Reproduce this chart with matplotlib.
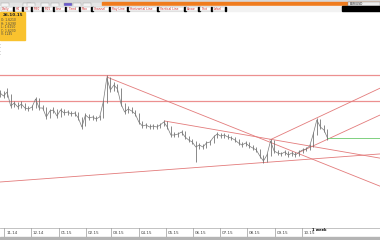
import matplotlib

matplotlib.use("Agg")
import matplotlib.pyplot as plt  # noqa: E402
import pandas as pd  # noqa: E402
from matplotlib.patches import Rectangle  # noqa: E402

# price bars, one every 4 days starting 27.10.14
start_date = "2014-10-27"
closes = [2.07, 2.04, 2.08, 1.94, 1.97, 1.93, 1.96, 1.92, 1.91, 1.93,
          2.01, 1.92, 1.92, 1.83, 1.89, 1.90, 1.84, 1.90, 1.87, 1.88,
          1.86, 1.87, 1.82, 1.73, 1.85, 1.82, 1.83, 1.81, 1.83, 1.98,
          2.22, 2.10, 2.15, 2.11, 1.96, 1.88, 1.91, 1.89, 1.86, 1.78,
          1.74, 1.75, 1.73, 1.74, 1.73, 1.75, 1.78, 1.73, 1.65, 1.65,
          1.66, 1.68, 1.63, 1.60, 1.58, 1.53, 1.55, 1.53, 1.57, 1.58,
          1.63, 1.66, 1.64, 1.65, 1.63, 1.62, 1.60, 1.57, 1.55, 1.57,
          1.54, 1.52, 1.50, 1.44, 1.39, 1.45, 1.59, 1.49, 1.47, 1.46,
          1.48, 1.45, 1.47, 1.45, 1.48, 1.50, 1.51, 1.54, 1.66, 1.80,
          1.73, 1.70, 1.62]
highs = [2.10, 2.09, 2.12, 2.06, 1.99, 1.98, 1.99, 1.97, 1.94, 1.95,
         2.03, 2.02, 1.95, 1.93, 1.91, 1.93, 1.91, 1.92, 1.91, 1.90,
         1.89, 1.89, 1.88, 1.83, 1.87, 1.86, 1.85, 1.84, 1.85, 2.00,
         2.25, 2.23, 2.18, 2.16, 2.12, 1.97, 1.94, 1.93, 1.90, 1.87,
         1.79, 1.77, 1.76, 1.76, 1.76, 1.77, 1.80, 1.79, 1.74, 1.68,
         1.68, 1.70, 1.69, 1.64, 1.61, 1.59, 1.57, 1.56, 1.59, 1.60,
         1.65, 1.68, 1.67, 1.67, 1.66, 1.64, 1.63, 1.61, 1.58, 1.59,
         1.58, 1.55, 1.53, 1.51, 1.45, 1.47, 1.61, 1.60, 1.50, 1.48,
         1.50, 1.49, 1.49, 1.48, 1.50, 1.52, 1.53, 1.56, 1.68, 1.82,
         1.81, 1.75, 1.71]
lows = [2.03, 2.02, 2.03, 1.92, 1.93, 1.91, 1.92, 1.90, 1.89, 1.90,
        1.92, 1.90, 1.90, 1.81, 1.82, 1.87, 1.82, 1.83, 1.85, 1.85,
        1.84, 1.84, 1.80, 1.71, 1.74, 1.80, 1.80, 1.79, 1.80, 1.82,
        1.97, 2.08, 2.09, 2.08, 1.94, 1.86, 1.87, 1.87, 1.84, 1.76,
        1.72, 1.72, 1.71, 1.71, 1.71, 1.72, 1.74, 1.71, 1.63, 1.63,
        1.63, 1.65, 1.61, 1.58, 1.56, 1.38, 1.51, 1.51, 1.52, 1.55,
        1.57, 1.62, 1.62, 1.62, 1.61, 1.60, 1.58, 1.55, 1.53, 1.54,
        1.52, 1.50, 1.48, 1.42, 1.37, 1.38, 1.44, 1.47, 1.45, 1.44,
        1.45, 1.43, 1.44, 1.43, 1.44, 1.47, 1.49, 1.50, 1.53, 1.65,
        1.71, 1.68, 1.60]

# drawn objects
horizontal_levels = [2.255, 1.995]
peak_line = (["2015-02-24", "2016-01-19"], [2.23, 1.06])
mid_line = (["2015-04-30", "2016-01-19"], [1.79, 1.385])
channel_top = (["2015-08-26", "2016-01-19"], [1.60, 2.21])
channel_bottom = (["2015-09-29", "2016-01-19"], [1.48, 1.94])
base_line = (["2014-10-27", "2016-01-19"], [1.18, 1.475])
support_dates = ["2015-10-30", "2015-12-28"]
support_level = 1.625

month_ticks = ["2014-11-01", "2014-12-01", "2015-01-01", "2015-02-01", "2015-03-01",
               "2015-04-01", "2015-05-01", "2015-06-01", "2015-07-01", "2015-08-01",
               "2015-09-01", "2015-10-01"]
month_labels = ["11.14", "12.14", "01.15", "02.15", "03.15", "04.15",
                "05.15", "06.15", "07.15", "08.15", "09.15", "10.15"]

toolbar_tabs = ["Daily", "H4", "H1", "M30", "M15", "Line", "Trend", "Fibo", "Channel",
                "Ray Line", "Horizontal Line", "Vertical Line", "Arrow", "Text", "Label"]
info_lines = ["O: 1.6210", "H: 1.6290", "L: 1.6150", "C: 1.6230", "V: 1245"]

W, H = 380, 240
fig = plt.figure(figsize=(W / 100, H / 100), dpi=100)
fig.patch.set_facecolor("white")


def px_rect(x, y, w, h, **kw):
    """Rectangle in pixel coords with origin top-left."""
    r = Rectangle((x / W, 1 - (y + h) / H), w / W, h / H, transform=fig.transFigure, **kw)
    fig.patches.append(r)


def px_text(x, y, s, **kw):
    fig.text(x / W, 1 - y / H, s, **kw)


ax = fig.add_axes([0, 12 / H, 1, 216 / H])
dates = pd.date_range(start_date, periods=len(closes), freq="4D")
ax.set_xlim(pd.Timestamp(start_date), pd.Timestamp("2015-12-28"))
ax.set_ylim(0.72, 2.88)
for s in ax.spines.values():
    s.set_visible(False)
ax.set_xticks([])
ax.set_yticks([])

red = "#e37b7b"
for lvl in horizontal_levels:
    ax.axhline(lvl, color="#ec9090", lw=0.9)
for xs, ys in (peak_line, mid_line, channel_top, channel_bottom, base_line):
    ax.plot(pd.to_datetime(xs), ys, color=red, lw=0.6)
ax.plot(pd.to_datetime(support_dates), [support_level] * 2, color="#7fd07f", lw=0.7)

ax.vlines(dates, lows, highs, color="#6a6a6a", lw=0.55)
ax.plot(dates, closes, color="#7a7a7a", lw=0.5)

# time axis strip
tx = ax.get_xaxis_transform()
ax.plot([0, 1], [0, 0], color="#b8b8b8", lw=0.6, transform=ax.transAxes, clip_on=False)
for d, lab in zip(pd.to_datetime(month_ticks), month_labels):
    ax.plot([d, d], [0, -9 / 216], color="#9a9a9a", lw=0.5, transform=tx, clip_on=False)
    ax.text(d + pd.Timedelta(days=2), -4.5 / 216, lab, transform=tx, fontsize=3.0,
            color="#444444", va="center", ha="left")
px_text(312, 230, "1 week", fontsize=2.6, color="black", weight="bold", va="center")
px_rect(0, 237, W, 3, color="#b4b4b4")

# toolbar
px_rect(0, 0, W, 3, color="#d8d8d8")
px_rect(0, 3, 102, 4, color="#e4e4e4")
px_rect(102, 2, W - 102, 4, color="#f07c1e")
for i, x0 in enumerate([0, 22, 26, 40, 50, 63, 72, 82]):
    px_rect(x0 + 1, 3, 8, 3.5, facecolor="#6a5acd" if i == 5 else "#f4f4f4",
            edgecolor="#9a9a9a", lw=0.3)
px_rect(348, 2, 32, 3.5, facecolor="#ededed", edgecolor="#888888", lw=0.3)
px_text(350, 3.8, "EUR/USD", fontsize=2.2, color="#222222", va="center")
px_rect(0, 6.5, W, 4.5, color="#f2f2f2")
px_rect(342, 6.5, W - 342, 4.5, color="black")
xpos = 0
for lab in toolbar_tabs:
    w = 6 + len(lab) * 1.6
    if xpos + w > 340:
        break
    px_rect(xpos + 0.5, 6.8, w - 1, 3.9, facecolor="white", edgecolor="#a0a0a0", lw=0.3)
    px_text(xpos + 1.5, 8.8, lab, fontsize=2.2, color="#cc3333", va="center")
    px_rect(xpos + w - 1.5, 7, 1.5, 3.5, color="black")
    xpos += w

# info box
px_rect(0, 12, 25, 28, color="#f9c22e")
px_text(12.5, 15.5, "26.10.15", fontsize=3.0, weight="bold", ha="center", va="center", color="#222222")
for k, line in enumerate(info_lines):
    px_text(1, 20 + k * 3.6, line, fontsize=2.2, color="#444444", va="center")
for k in range(4):
    px_text(0, 44 + k * 3.5, "-", fontsize=2.2, color="#666666", va="center")

fig.savefig("out.png", dpi=100)
